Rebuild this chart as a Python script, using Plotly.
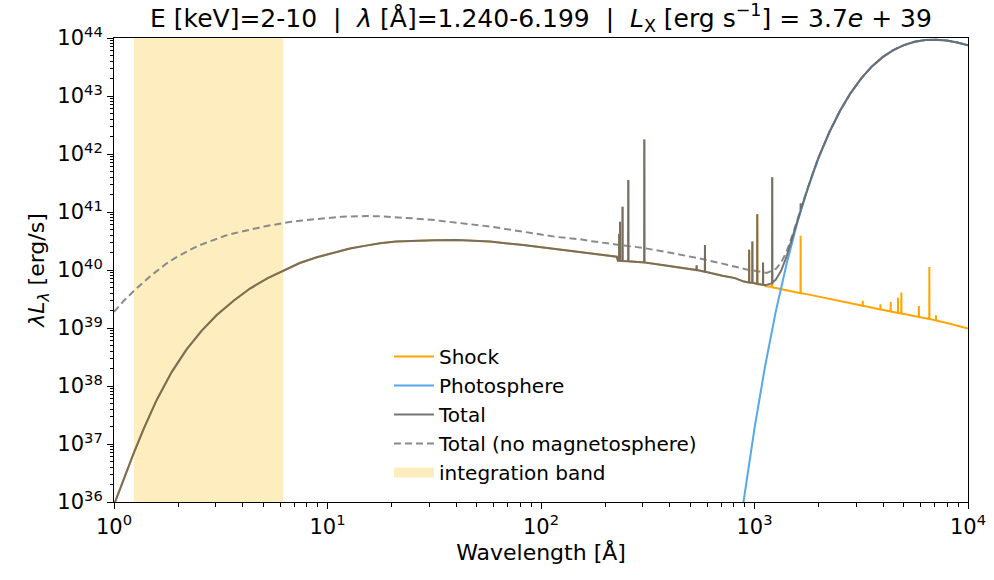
import numpy as np
import plotly.graph_objects as go

# ---- data (log10 wavelength [Å], log10 lambda*L_lambda [erg/s]) ----
# shared UV/X-ray part of the shock spectrum (Total coincides with Shock here)
uv_loglam = [0.0, 0.005, 0.045, 0.09, 0.14, 0.2, 0.27, 0.34, 0.41, 0.48, 0.56, 0.637, 0.72, 0.793,
             0.87, 0.95, 1.03, 1.105, 1.18, 1.246, 1.32, 1.40, 1.5, 1.605, 1.761, 1.917, 2.073,
             2.183, 2.30, 2.355, 2.36,
             2.3655, 2.366, 2.3665,
             2.3695, 2.370, 2.3705,
             2.3815, 2.382, 2.3825,
             2.4085, 2.409, 2.4095,
             2.4835, 2.484, 2.4845,
             2.60,
             2.7285, 2.729, 2.7295,
             2.7675, 2.768, 2.7685,
             2.85, 2.909, 2.95, 2.963,
             2.9745, 2.975, 2.9755,
             2.9895, 2.99, 2.9905,
             3.0125, 3.013, 3.0135,
             3.0395, 3.04, 3.0405]
uv_logL = [35.95, 36.0, 36.40, 36.82, 37.27, 37.76, 38.24, 38.63, 38.95, 39.22, 39.47, 39.68, 39.86, 39.99,
           40.12, 40.22, 40.30, 40.37, 40.42, 40.46, 40.49, 40.505, 40.515, 40.517, 40.49, 40.43, 40.36,
           40.30, 40.25, 40.23, 40.16,
           40.16, 40.62, 40.16,
           40.16, 40.83, 40.16,
           40.155, 41.09, 40.155,
           40.15, 41.55, 40.15,
           40.13, 42.25, 40.13,
           40.07,
           40.0, 40.08, 40.0,
           39.97, 40.43, 39.97,
           39.90, 39.86, 39.80, 39.79,
           39.785, 40.35, 39.785,
           39.78, 40.49, 39.78,
           39.76, 40.96, 39.76,
           39.745, 40.13, 39.745]

# Shock beyond ~1100 Å (continuum + optical/UV lines)
shock_ir_loglam = [3.054, 3.0825, 3.083, 3.0835, 3.10, 3.15, 3.20, 3.2155, 3.216, 3.2165, 3.25, 3.30,
                   3.37, 3.45, 3.5065, 3.507, 3.5075, 3.5895, 3.59, 3.5905, 3.604,
                   3.6375, 3.638, 3.6385, 3.6715, 3.672, 3.6725, 3.6875, 3.688, 3.6885,
                   3.7695, 3.77, 3.7705, 3.8185, 3.819, 3.8195, 3.838, 3.8495, 3.85, 3.8505,
                   3.92, 4.0]
shock_ir_logL = [39.72, 39.71, 41.60, 39.70, 39.69, 39.65, 39.62, 39.60, 40.59, 39.60, 39.58, 39.54,
                 39.49, 39.43, 39.385, 39.47, 39.385, 39.32, 39.41, 39.32, 39.31,
                 39.285, 39.45, 39.285, 39.26, 39.52, 39.26, 39.25, 39.61, 39.25,
                 39.19, 39.38, 39.19, 39.155, 40.05, 39.155, 39.14, 39.13, 39.22, 39.13,
                 39.07, 38.99]

# Total beyond ~1100 Å (shock + photosphere)
total_ir_loglam = [3.054, 3.075, 3.0825, 3.083, 3.0835, 3.10, 3.125, 3.15, 3.175, 3.20,
                   3.2155, 3.216, 3.2165, 3.225, 3.25, 3.275, 3.30, 3.35, 3.40, 3.45, 3.50,
                   3.55, 3.60, 3.65, 3.70, 3.75, 3.80, 3.85, 3.90, 3.95, 4.00]
total_ir_logL = [39.74, 39.756, 39.77, 41.60, 39.78, 39.835, 39.99, 40.23, 40.53, 40.84,
                 41.02, 41.15, 41.04, 41.133, 41.42, 41.69, 41.94, 42.37, 42.74, 43.05, 43.305,
                 43.51, 43.67, 43.79, 43.878, 43.934, 43.964, 43.97, 43.955, 43.923, 43.875]

# Photosphere
photo_loglam = [2.94, 2.95, 3.0, 3.05, 3.1, 3.15, 3.2, 3.25, 3.3, 3.35, 3.4, 3.45, 3.5, 3.55,
                3.6, 3.65, 3.7, 3.75, 3.8, 3.85, 3.9, 3.95, 4.0]
photo_logL = [35.77, 36.04, 37.27, 38.35, 39.29, 40.10, 40.81, 41.41, 41.93, 42.37, 42.74, 43.05,
              43.305, 43.51, 43.67, 43.79, 43.878, 43.934, 43.964, 43.97, 43.955, 43.923, 43.875]

# Total (no magnetosphere)
nomag_loglam = [0.0, 0.045, 0.09, 0.13, 0.17, 0.21, 0.247, 0.285, 0.325, 0.365, 0.403, 0.44, 0.48,
                0.52, 0.559, 0.6, 0.64, 0.68, 0.715, 0.75, 0.79, 0.83, 0.871, 0.91, 0.95, 0.99,
                1.027, 1.065, 1.1, 1.14, 1.184, 1.246, 1.34, 1.40, 1.5, 1.605, 1.761, 1.917, 2.073,
                2.183, 2.23, 2.35, 2.48, 2.6, 2.729, 2.85, 2.963, 3.057, 3.1, 3.125, 3.15, 3.175,
                3.2, 3.25, 3.3, 3.35, 3.4, 3.45, 3.5, 3.55, 3.6, 3.65, 3.7, 3.75, 3.8, 3.85, 3.9,
                3.95, 4.0]
nomag_logL = [39.28, 39.465, 39.63, 39.765, 39.894, 40.01, 40.115, 40.205, 40.29, 40.365, 40.43, 40.485,
              40.54, 40.59, 40.63, 40.668, 40.70, 40.73, 40.76, 40.785, 40.81, 40.83, 40.85, 40.866,
              40.88, 40.895, 40.91, 40.918, 40.923, 40.928, 40.93, 40.925, 40.91, 40.89, 40.86, 40.82,
              40.75, 40.66, 40.57, 40.53, 40.50, 40.44, 40.38, 40.30, 40.21, 40.11, 40.01, 39.95,
              40.02, 40.13, 40.315, 40.57, 40.858, 41.42, 41.935, 42.37, 42.74, 43.05, 43.305, 43.51,
              43.67, 43.79, 43.878, 43.934, 43.964, 43.97, 43.955, 43.923, 43.875]

band_lo, band_hi = 1.240, 6.199        # integration band [Å]
y_lo, y_hi = 1e36, 1e44
x_decades = [0, 1, 2, 3, 4]
y_decades = [36, 37, 38, 39, 40, 41, 42, 43, 44]

title_text = ("E [keV]=2-10  |  <i>λ</i> [Å]=1.240-6.199  |  <i>L</i><sub>X</sub> "
              "[erg s<sup>−1</sup>] = 3.7<i>e</i> + 39")


def to_lin(a):
    return np.power(10.0, np.asarray(a, dtype=float))


def minor_vals(decades):
    return [m * 10.0 ** d for d in decades[:-1] for m in range(2, 10)]


shock_x = to_lin(uv_loglam + shock_ir_loglam)
shock_y = to_lin(uv_logL + shock_ir_logL)
total_x = to_lin(uv_loglam + total_ir_loglam)
total_y = to_lin(uv_logL + total_ir_logL)

FONT = "DejaVu Sans"
BAND_COLOR = "#FDEDBF"
fig = go.Figure()

fig.add_trace(go.Scatter(
    x=[band_lo, band_hi, band_hi, band_lo, band_lo], y=[y_lo, y_lo, y_hi, y_hi, y_lo],
    fill="toself", fillcolor=BAND_COLOR, line=dict(width=0, color=BAND_COLOR),
    mode="lines", name="integration band", showlegend=False, hoverinfo="skip"))

fig.add_trace(go.Scatter(
    x=to_lin(nomag_loglam), y=to_lin(nomag_logL), mode="lines",
    line=dict(color="#8a8a8a", width=2, dash="7px,4px"),
    name="Total (no magnetosphere)", legendrank=4, legendgroup="d"))

fig.add_trace(go.Scatter(
    x=shock_x, y=shock_y, mode="lines", line=dict(color="#FFA500", width=2),
    name="Shock", legendrank=1, legendgroup="a"))

fig.add_trace(go.Scatter(
    x=to_lin(photo_loglam), y=to_lin(photo_logL), mode="lines",
    line=dict(color="#56A8E8", width=2), name="Photosphere", legendrank=2, legendgroup="b"))

fig.add_trace(go.Scatter(
    x=total_x, y=total_y, mode="lines", line=dict(color="rgba(105,105,105,0.92)", width=2),
    name="Total", legendrank=3, legendgroup="c"))

# legend entry for the integration band (swatch only)
fig.add_trace(go.Scatter(
    x=[None], y=[None], mode="lines", line=dict(color=BAND_COLOR, width=15),
    name="integration band", legendrank=5, legendgroup="e", hoverinfo="skip"))

tick_font = dict(family=FONT, size=21, color="black")
axis_common = dict(
    type="log", showline=True, linecolor="black", linewidth=1, mirror=True,
    ticks="outside", ticklen=6, tickcolor="black", tickwidth=1,
    showgrid=False, zeroline=False, automargin=False,
    tickfont=tick_font, tickmode="array",
)

fig.update_xaxes(
    range=[0, 4],
    tickvals=[10.0 ** d for d in x_decades],
    ticktext=[f"10<sup>{d}</sup>" for d in x_decades],
    minor=dict(tickmode="array", tickvals=minor_vals(x_decades), ticks="outside",
               ticklen=3.5, tickcolor="black", showgrid=False),
    title=dict(text="Wavelength [Å]", font=dict(family=FONT, size=22, color="black"), standoff=4),
    **axis_common)
fig.update_yaxes(
    range=[36, 44],
    tickvals=[10.0 ** d for d in y_decades],
    ticktext=[f"10<sup>{d}</sup>" for d in y_decades],
    minor=dict(tickmode="array", tickvals=minor_vals(y_decades), ticks="outside",
               ticklen=3.5, tickcolor="black", showgrid=False),
    title=dict(text="<i>λL</i><sub><i>λ</i></sub> [erg/s]",
               font=dict(family=FONT, size=22, color="black"), standoff=6),
    **axis_common)

fig.update_layout(
    width=994, height=580,
    margin=dict(l=114, r=26, t=38, b=78),
    paper_bgcolor="white", plot_bgcolor="white",
    font=dict(family=FONT, color="black"),
    title=dict(text=title_text, x=0.5, xref="paper", xanchor="center",
               y=1 - 18 / 580, yref="container", yanchor="middle",
               font=dict(family=FONT, size=25, color="black")),
    showlegend=True,
    legend=dict(x=(389 - 114) / 854, y=(502 - 337) / 464, xanchor="left", yanchor="top",
                bgcolor="rgba(0,0,0,0)", borderwidth=0, itemwidth=40,
                font=dict(family=FONT, size=20, color="black"),
                tracegroupgap=0),
)

fig.write_html("out.html")
